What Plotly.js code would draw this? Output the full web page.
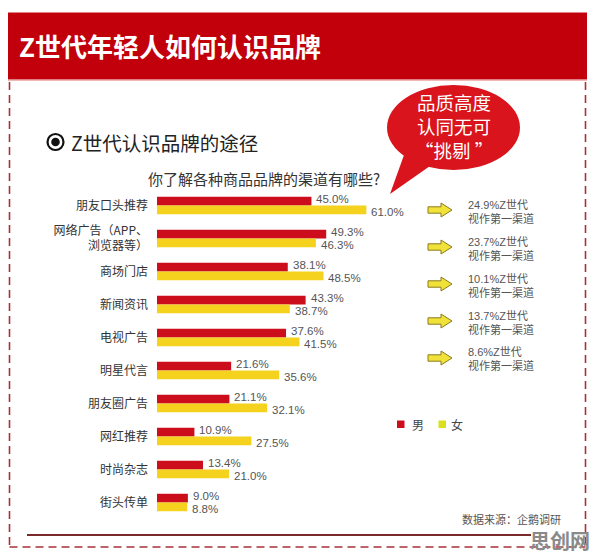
<!DOCTYPE html>
<html>
<head>
<meta charset="utf-8">
<script src="https://cdn.plot.ly/plotly-3.0.1.min.js"></script>
<style>html,body{margin:0;padding:0;background:#fff;}#chart{width:596px;height:558px;}</style>
</head>
<body>
<div id="chart"></div>
<script>
// ---- data ----
var categories = ['朋友口头推荐', '网络广告（APP、<br>浏览器等）', '商场门店', '新闻资讯', '电视广告', '明星代言', '朋友圈广告', '网红推荐', '时尚杂志', '街头传单'];
var male = [45.0, 49.3, 38.1, 43.3, 37.6, 21.6, 21.1, 10.9, 13.4, 9.0];
var female = [61.0, 46.3, 48.5, 38.7, 41.5, 35.6, 32.1, 27.5, 21.0, 8.8];
var seriesNames = ['男', '女'];
var firstChannelShares = ['24.9%', '23.7%', '10.1%', '13.7%', '8.6%'];
var firstChannelSuffix = 'Z世代<br>视作第一渠道';
var mainTitle = 'Z世代年轻人如何认识品牌';
var sectionTitle = 'Z世代认识品牌的途径';
var question = '你了解各种商品品牌的渠道有哪些?';
var bubbleLines = ['品质高度', '认同无可', '“挑剔 ”'];
var sourceText = '数据来源：企鹅调研';
var watermark = '思创网';

// ---- layout helpers (pixel -> paper) ----
var W = 596, H = 558;
function px(x) { return x / W; }
function py(y) { return 1 - y / H; }

var RED = '#cc0e1c', YEL = '#f4d21e';
var CJK = 'Noto Sans CJK SC, Noto Sans, sans-serif';
var NUM = 'Liberation Sans, Arial, Noto Sans CJK SC, sans-serif';

var traces = [
  {type: 'bar', orientation: 'h', name: seriesNames[0], y: categories, x: male,
   marker: {color: RED}, textposition: 'none', showlegend: false, hoverinfo: 'x+y'},
  {type: 'bar', orientation: 'h', name: seriesNames[1], y: categories, x: female,
   marker: {color: YEL}, textposition: 'none', showlegend: false, hoverinfo: 'x+y'}
];

var shapes = [];
var annotations = [];

// value labels (from data arrays, positioned via the axes)
categories.forEach(function (c, i) {
  annotations.push({xref: 'x', yref: 'y', x: male[i], y: c, xanchor: 'left', yanchor: 'middle',
    xshift: 3, yshift: 6, text: male[i].toFixed(1) + '%', showarrow: false,
    font: {family: NUM, size: 11.5, color: '#555'}});
  annotations.push({xref: 'x', yref: 'y', x: female[i], y: c, xanchor: 'left', yanchor: 'middle',
    xshift: 3, yshift: -6.5, text: female[i].toFixed(1) + '%', showarrow: false,
    font: {family: NUM, size: 11.5, color: '#555'}});
});

// header bar
shapes.push({type: 'rect', xref: 'paper', yref: 'paper', x0: px(8), x1: px(587), y0: py(79.5), y1: py(12.5),
  fillcolor: '#c1000b', line: {width: 0}, layer: 'below'});
shapes.push({type: 'line', xref: 'paper', yref: 'paper', x0: px(8), x1: px(587), y0: py(80.5), y1: py(80.5),
  line: {color: '#f2b8b8', width: 1.2}});
annotations.push({xref: 'paper', yref: 'paper', x: px(17), y: py(45), xanchor: 'left', yanchor: 'middle',
  text: '<b>' + mainTitle + '</b>', showarrow: false, font: {family: CJK, size: 26, color: '#ffffff'}});

// dashed frame
var DASHC = '#a8323a';
shapes.push({type: 'line', xref: 'paper', yref: 'paper', x0: px(9.5), x1: px(9.5), y0: py(82), y1: py(547),
  line: {color: DASHC, width: 1.6, dash: '8px,5px'}});
shapes.push({type: 'line', xref: 'paper', yref: 'paper', x0: px(585.5), x1: px(585.5), y0: py(82), y1: py(547),
  line: {color: DASHC, width: 1.6, dash: '8px,5px'}});
shapes.push({type: 'line', xref: 'paper', yref: 'paper', x0: px(9.5), x1: px(585.5), y0: py(547), y1: py(547),
  line: {color: DASHC, width: 1.6, dash: '8px,5px'}});
// solid bottom rule
shapes.push({type: 'line', xref: 'paper', yref: 'paper', x0: px(27), x1: px(531), y0: py(535), y1: py(535),
  line: {color: '#7a2a2a', width: 2}});

// section title with radio icon
shapes.push({type: 'circle', xref: 'paper', yref: 'paper', x0: px(47.5), x1: px(63.5), y0: py(150), y1: py(134),
  line: {color: '#111', width: 2.2}, fillcolor: 'rgba(0,0,0,0)'});
shapes.push({type: 'circle', xref: 'paper', yref: 'paper', x0: px(51.2), x1: px(59.8), y0: py(146.3), y1: py(137.7),
  line: {width: 0}, fillcolor: '#111'});
annotations.push({xref: 'paper', yref: 'paper', x: px(69), y: py(142), xanchor: 'left', yanchor: 'middle',
  text: sectionTitle, showarrow: false, font: {family: CJK, size: 19.5, color: '#222'}});

// question
annotations.push({xref: 'paper', yref: 'paper', x: px(264), y: py(178), xanchor: 'center', yanchor: 'middle',
  text: question, showarrow: false, font: {family: CJK, size: 15, color: '#333'}});

// speech bubble
var BUB = '#d9141c';
shapes.push({type: 'path', xref: 'paper', yref: 'paper',
  path: 'M ' + px(404) + ' ' + py(155) + ' L ' + px(430) + ' ' + py(166) + ' L ' + px(390) + ' ' + py(194) + ' Z',
  fillcolor: BUB, line: {width: 0}});
shapes.push({type: 'circle', xref: 'paper', yref: 'paper', x0: px(387), x1: px(520), y0: py(170), y1: py(85),
  fillcolor: BUB, line: {width: 0}});
annotations.push({xref: 'paper', yref: 'paper', x: px(454), y: py(126), xanchor: 'center', yanchor: 'middle',
  text: bubbleLines.join('<br>'), showarrow: false, align: 'center',
  font: {family: CJK, size: 18.5, color: '#ffffff'}});

// right-hand notes with arrows
firstChannelShares.forEach(function (s, i) {
  var cy = 210 + i * 37;
  shapes.push({type: 'path', xref: 'paper', yref: 'paper',
    path: 'M ' + px(428) + ' ' + py(cy - 3.2) + ' L ' + px(441) + ' ' + py(cy - 3.2) + ' L ' + px(441) + ' ' + py(cy - 7) +
          ' L ' + px(452) + ' ' + py(cy) + ' L ' + px(441) + ' ' + py(cy + 7) + ' L ' + px(441) + ' ' + py(cy + 3.2) +
          ' L ' + px(428) + ' ' + py(cy + 3.2) + ' Z',
    fillcolor: '#f1e23a', line: {color: '#8c7a1e', width: 1}});
  annotations.push({xref: 'paper', yref: 'paper', x: px(466), y: py(cy + 1.5), xanchor: 'left', yanchor: 'middle',
    align: 'left', text: s + firstChannelSuffix, showarrow: false,
    font: {family: NUM, size: 11, color: '#555'}});
});

// legend (manual)
shapes.push({type: 'rect', xref: 'paper', yref: 'paper', x0: px(397), x1: px(404.5), y0: py(428), y1: py(420.5),
  fillcolor: RED, line: {width: 0}});
annotations.push({xref: 'paper', yref: 'paper', x: px(410), y: py(424), xanchor: 'left', yanchor: 'middle',
  text: seriesNames[0], showarrow: false, font: {family: CJK, size: 12, color: '#444'}});
shapes.push({type: 'rect', xref: 'paper', yref: 'paper', x0: px(438.5), x1: px(446), y0: py(428), y1: py(420.5),
  fillcolor: '#dbe01c', line: {width: 0}});
annotations.push({xref: 'paper', yref: 'paper', x: px(449), y: py(424), xanchor: 'left', yanchor: 'middle',
  text: seriesNames[1], showarrow: false, font: {family: CJK, size: 12, color: '#444'}});

// source & watermark
annotations.push({xref: 'paper', yref: 'paper', x: px(563), y: py(519), xanchor: 'right', yanchor: 'middle',
  text: sourceText, showarrow: false, font: {family: CJK, size: 11, color: '#555'}});
annotations.push({xref: 'paper', yref: 'paper', x: px(560), y: py(540), xanchor: 'center', yanchor: 'middle',
  text: '<b>' + watermark + '</b>', showarrow: false, font: {family: CJK, size: 20, color: '#8a8a8a'}});

var layout = {
  width: W, height: H,
  margin: {l: 0, r: 0, t: 0, b: 0, pad: 0},
  paper_bgcolor: '#ffffff', plot_bgcolor: 'rgba(0,0,0,0)',
  barmode: 'group', bargap: 0.47, bargroupgap: 0,
  showlegend: false,
  xaxis: {domain: [px(157), px(400)], range: [0, 70.8], visible: false, fixedrange: true},
  yaxis: {domain: [py(519), py(189)], autorange: 'reversed', type: 'category',
    showgrid: false, zeroline: false, showline: false, ticks: '', ticklabelstandoff: 8,
    tickfont: {family: CJK, size: 12, color: '#333'}, fixedrange: true},
  shapes: shapes,
  annotations: annotations,
  font: {family: CJK}
};

Plotly.newPlot('chart', traces, layout, {displayModeBar: false, staticPlot: true});
</script>
</body>
</html>
